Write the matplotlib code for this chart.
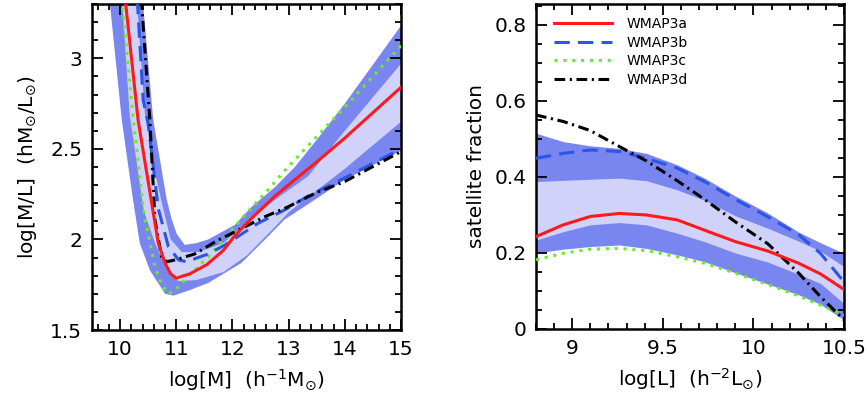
import numpy as np
import matplotlib
matplotlib.use("Agg")
import matplotlib.pyplot as plt
from matplotlib.ticker import MultipleLocator, FormatStrFormatter

# ---------------- Left panel data: log[M/L] vs log[M] ----------------
a_mass = [10.08, 10.32, 10.61, 10.68, 10.80, 10.90, 11.00, 11.24, 11.54, 11.84,
          12.04, 12.40, 12.76, 13.11, 13.47, 14.00, 15.00]
a_ml = [3.36, 2.66, 2.11, 1.98, 1.87, 1.81, 1.786, 1.81, 1.86, 1.94,
        2.02, 2.135, 2.24, 2.33, 2.42, 2.56, 2.84]

b_mass = [10.30, 10.41, 10.50, 10.68, 10.86, 11.04, 11.18, 11.57, 11.87, 12.46,
          12.93, 13.35, 14.00, 15.00]
b_ml = [3.36, 2.77, 2.64, 2.17, 1.96, 1.887, 1.877, 1.92, 1.97, 2.09,
        2.163, 2.24, 2.34, 2.50]

c_mass = [10.02, 10.23, 10.43, 10.50, 10.62, 10.74, 10.86, 10.98, 11.21, 11.57,
          11.93, 12.22, 12.58, 12.93, 13.26, 14.00, 15.00]
c_ml = [3.36, 2.68, 2.13, 2.03, 1.85, 1.75, 1.70, 1.72, 1.795, 1.905,
        2.03, 2.135, 2.255, 2.38, 2.49, 2.73, 3.07]

d_mass = [10.37, 10.53, 10.62, 10.74, 10.83, 10.98, 11.33, 11.75, 12.16, 12.58,
          12.99, 13.47, 14.00, 15.00]
d_ml = [3.36, 2.66, 2.11, 1.90, 1.877, 1.887, 1.92, 1.997, 2.06, 2.126,
        2.18, 2.255, 2.32, 2.485]

# outer (2 sigma) band edges
outer_lo_mass = [9.78, 10.03, 10.23, 10.35, 10.53, 10.80, 10.95, 11.24, 11.57, 12.16,
                 12.58, 12.93, 13.47, 14.00, 15.00]
outer_lo_ml = [3.42, 2.66, 2.22, 1.98, 1.83, 1.70, 1.69, 1.72, 1.76, 1.87,
               2.00, 2.11, 2.22, 2.33, 2.49]
outer_hi_mass = [10.38, 10.59, 10.83, 10.92, 11.01, 11.15, 11.36, 11.57, 12.04, 12.34,
                 12.76, 13.11, 13.50, 14.00, 15.00]
outer_hi_ml = [3.40, 2.66, 2.22, 2.11, 2.03, 1.97, 1.98, 2.00, 2.08, 2.18,
               2.29, 2.40, 2.55, 2.75, 3.18]
# inner (1 sigma) band edges
inner_lo_mass = [10.02, 10.17, 10.42, 10.62, 10.86, 11.04, 11.36, 11.84, 12.25, 12.76,
                 13.00, 13.50, 14.00, 15.00]
inner_lo_ml = [3.40, 2.69, 2.16, 1.98, 1.82, 1.77, 1.776, 1.82, 1.91, 2.07,
               2.15, 2.27, 2.39, 2.65]
inner_hi_mass = [10.28, 10.44, 10.60, 10.76, 10.90, 11.10, 11.40, 11.84, 12.20, 12.76,
                 13.35, 14.00, 15.00]
inner_hi_ml = [3.40, 2.70, 2.40, 2.18, 2.00, 1.93, 1.93, 1.98, 2.08, 2.22,
               2.35, 2.60, 2.97]

# ---------------- Right panel data: satellite fraction vs log[L] ----------------
lum = [8.80, 8.95, 9.10, 9.26, 9.41, 9.58, 9.73, 9.90, 10.08, 10.25, 10.37, 10.50]
fsat_a = [0.243, 0.274, 0.296, 0.304, 0.300, 0.287, 0.260, 0.230, 0.205, 0.173, 0.145, 0.104]
fsat_b = [0.449, 0.462, 0.471, 0.467, 0.449, 0.423, 0.388, 0.341, 0.295, 0.248, 0.199, 0.124]
fsat_c = [0.182, 0.199, 0.210, 0.212, 0.206, 0.190, 0.173, 0.147, 0.117, 0.087, 0.063, 0.037]
fsat_d = [0.563, 0.546, 0.522, 0.480, 0.442, 0.390, 0.341, 0.282, 0.224, 0.147, 0.085, 0.024]
fsat_outer_hi = [0.515, 0.493, 0.482, 0.475, 0.462, 0.432, 0.397, 0.350, 0.305, 0.255, 0.227, 0.199]
fsat_outer_lo = [0.200, 0.210, 0.217, 0.221, 0.212, 0.195, 0.177, 0.148, 0.118, 0.090, 0.065, 0.024]
fsat_inner_hi = [0.388, 0.391, 0.394, 0.397, 0.390, 0.366, 0.339, 0.298, 0.265, 0.231, 0.205, 0.164]
fsat_inner_lo = [0.234, 0.256, 0.274, 0.280, 0.274, 0.252, 0.230, 0.200, 0.176, 0.144, 0.120, 0.067]

labels = ["WMAP3a", "WMAP3b", "WMAP3c", "WMAP3d"]

# ---------------- styling ----------------
DARK = "#7a86f0"
LIGHT = "#d0d2fa"
RED = "#ff1a1a"
BLUE = "#2a55e5"
GREEN = "#66ee22"
BLACK = "#000000"
LW = 2.2
styles = [
    dict(color=RED, lw=LW, ls="-"),
    dict(color=BLUE, lw=LW, ls=(0, (5, 2.7))),
    dict(color=GREEN, lw=LW, ls=(0, (1.0, 1.9))),
    dict(color=BLACK, lw=LW, ls=(0, (3.5, 1.5, 0.7, 1.5))),
]

plt.rcParams["font.family"] = ["DejaVu Sans"]
plt.rcParams["mathtext.fontset"] = "dejavusans"
FS = 14.5

fig = plt.figure(figsize=(8.68, 3.97), dpi=100)
ax1 = fig.add_axes([92 / 868, 67 / 397, 309 / 868, 326 / 397])
ax2 = fig.add_axes([536 / 868, 68 / 397, 308 / 868, 325 / 397])


def style_axes(ax):
    ax.tick_params(which="both", direction="in", top=True, right=True,
                   labelsize=FS, width=1.3, pad=7)
    ax.tick_params(which="major", length=8)
    ax.tick_params(which="minor", length=4.5)
    for s in ax.spines.values():
        s.set_linewidth(1.8)


# ----- left panel -----
ax1.fill(np.concatenate([outer_lo_mass, outer_hi_mass[::-1]]),
         np.concatenate([outer_lo_ml, outer_hi_ml[::-1]]),
         color=DARK, lw=0, zorder=1)
ax1.fill(np.concatenate([inner_lo_mass, inner_hi_mass[::-1]]),
         np.concatenate([inner_lo_ml, inner_hi_ml[::-1]]),
         color=LIGHT, lw=0, zorder=2)
left_series = [(a_mass, a_ml), (b_mass, b_ml), (c_mass, c_ml), (d_mass, d_ml)]
for (xs, ys), st, z in zip(left_series, styles, [6, 4, 3, 5]):
    ax1.plot(xs, ys, zorder=z, **st)
ax1.set_xlim(9.5, 15)
ax1.set_ylim(1.5, 3.3)
ax1.xaxis.set_major_locator(MultipleLocator(1))
ax1.xaxis.set_minor_locator(MultipleLocator(0.2))
ax1.yaxis.set_major_locator(MultipleLocator(0.5))
ax1.yaxis.set_minor_locator(MultipleLocator(0.1))
ax1.yaxis.set_major_formatter(FormatStrFormatter("%g"))
style_axes(ax1)
ax1.set_xlabel(r"log[M]  (h$^{-1}$M$_{\odot}$)", fontsize=FS, labelpad=6)
ax1.set_ylabel(r"log[M/L]  (hM$_{\odot}$/L$_{\odot}$)", fontsize=FS, labelpad=8)

# ----- right panel -----
ax2.fill_between(lum, fsat_outer_lo, fsat_outer_hi, color=DARK, lw=0, zorder=1)
ax2.fill_between(lum, fsat_inner_lo, fsat_inner_hi, color=LIGHT, lw=0, zorder=2)
handles = []
for ys, st, z in zip([fsat_a, fsat_b, fsat_c, fsat_d], styles, [6, 4, 3, 5]):
    h, = ax2.plot(lum, ys, zorder=z, **st)
    handles.append(h)
ax2.set_xlim(8.8, 10.5)
ax2.set_ylim(0, 0.855)
ax2.xaxis.set_major_locator(MultipleLocator(0.5))
ax2.xaxis.set_minor_locator(MultipleLocator(0.1))
ax2.yaxis.set_major_locator(MultipleLocator(0.2))
ax2.yaxis.set_minor_locator(MultipleLocator(0.05))
ax2.xaxis.set_major_formatter(FormatStrFormatter("%g"))
ax2.yaxis.set_major_formatter(FormatStrFormatter("%g"))
style_axes(ax2)
ax2.set_xlabel(r"log[L]  (h$^{-2}$L$_{\odot}$)", fontsize=FS, labelpad=6)
ax2.set_ylabel("satellite fraction", fontsize=FS, labelpad=6)
ax2.legend(handles, labels, loc="upper left", bbox_to_anchor=(0.058, 0.96),
           borderaxespad=0, borderpad=0, handlelength=4.2, handletextpad=1.0,
           labelspacing=0.33, frameon=False, fontsize=10)

fig.savefig("out.png", dpi=100)
